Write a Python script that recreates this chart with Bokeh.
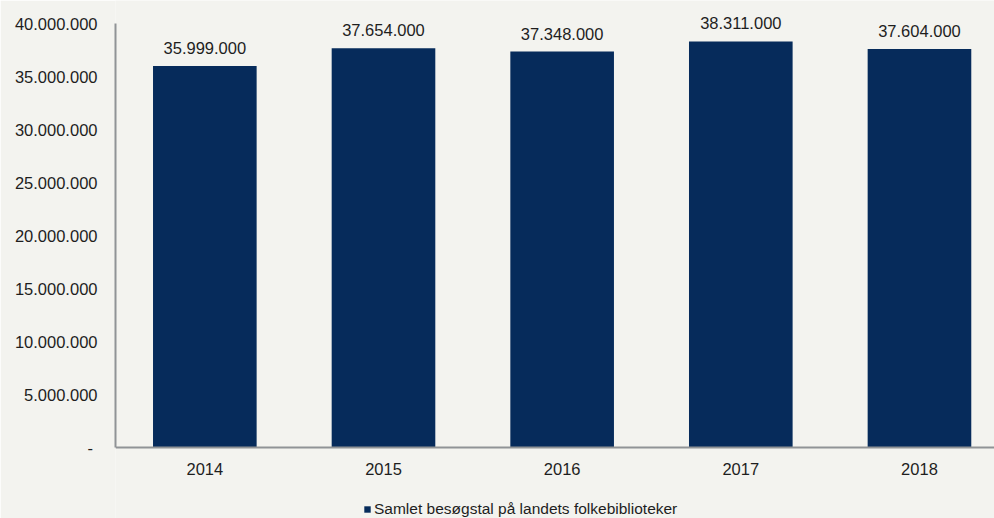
from bokeh.plotting import figure
from bokeh.models import ColumnDataSource, Range1d, FixedTicker, Legend, LegendItem, LabelSet
from bokeh.core.properties import value
from bokeh.embed import file_html
from bokeh.resources import INLINE

# ---- data ----
years = ["2014", "2015", "2016", "2017", "2018"]
visits = [35999000, 37654000, 37348000, 38311000, 37604000]
series_name = "Samlet besøgstal på landets folkebiblioteker"
y_ticks = [0, 5000000, 10000000, 15000000, 20000000, 25000000, 30000000, 35000000, 40000000]
y_tick_labels = ["-\u00a0", "5.000.000", "10.000.000", "15.000.000", "20.000.000",
                 "25.000.000", "30.000.000", "35.000.000", "40.000.000"]


def fmt(v):
    return f"{v:,}".replace(",", ".")


BG = "#f3f3ef"
BAR = "#062b5b"
TXT = "#1e1e1e"
FONT = "Liberation Sans"

# layout (pixels): figure 994x518, y=0 at 447px, y=40M at 23px
W, H = 994, 518
Y_TOP_PX, Y_ZERO_PX = 23, 447
y_max = y_ticks[-1]
per_px = y_max / (Y_ZERO_PX - Y_TOP_PX)
y_start = -(H - Y_ZERO_PX) * per_px
y_end = y_max + Y_TOP_PX * per_px

xpos = [i + 0.5 for i in range(len(years))]
src = ColumnDataSource(dict(x=xpos, y=visits, label=[fmt(v) for v in visits]))

p = figure(width=W, height=H, output_backend="svg", toolbar_location=None,
           x_range=Range1d(0, 4.92), y_range=Range1d(y_start, y_end),
           background_fill_color=BG, border_fill_color=BG,
           min_border_left=115, min_border_top=0, min_border_right=0, min_border_bottom=0)
p.outline_line_color = None
p.grid.visible = False

r = p.vbar(x="x", top="y", width=0.58, source=src, fill_color=BAR, line_color=None)

labels = LabelSet(x="x", y="y", text="label", source=src, text_align="center",
                  text_baseline="bottom", y_offset=12, text_font_size=value("16.5px"),
                  text_color=value(TXT), text_font=value(FONT))
p.add_layout(labels)

# axes
p.yaxis.ticker = FixedTicker(ticks=y_ticks)
p.yaxis.bounds = (0, y_max)
p.yaxis.major_label_overrides = {t: l for t, l in zip(y_ticks, y_tick_labels)}
p.xaxis.ticker = FixedTicker(ticks=xpos)
p.xaxis.fixed_location = 0
p.xaxis.major_label_overrides = {x: y for x, y in zip(xpos, years)}
for ax in (p.xaxis, p.yaxis):
    ax.major_tick_line_color = None
    ax.minor_tick_line_color = None
    ax.axis_line_color = "#909396"
    ax.axis_line_width = 2
    ax.major_label_text_font = FONT
    ax.major_label_text_font_size = "16.5px"
    ax.major_label_text_color = TXT
p.yaxis.major_label_standoff = 12
p.xaxis.major_label_standoff = 9

legend = Legend(items=[LegendItem(label=series_name, renderers=[r])],
                location=(248, 0), orientation="horizontal",
                glyph_width=8, glyph_height=8, label_standoff=3, padding=0, margin=0,
                spacing=0, label_height=18,
                background_fill_alpha=0, border_line_color=None,
                label_text_font=FONT, label_text_font_size="15.5px",
                label_text_color=TXT)
p.add_layout(legend, "center")

html = file_html(p, INLINE)
html = html.replace("<body>", f'<body style="background:{BG}">', 1)
open("out.html", "w").write(html)
